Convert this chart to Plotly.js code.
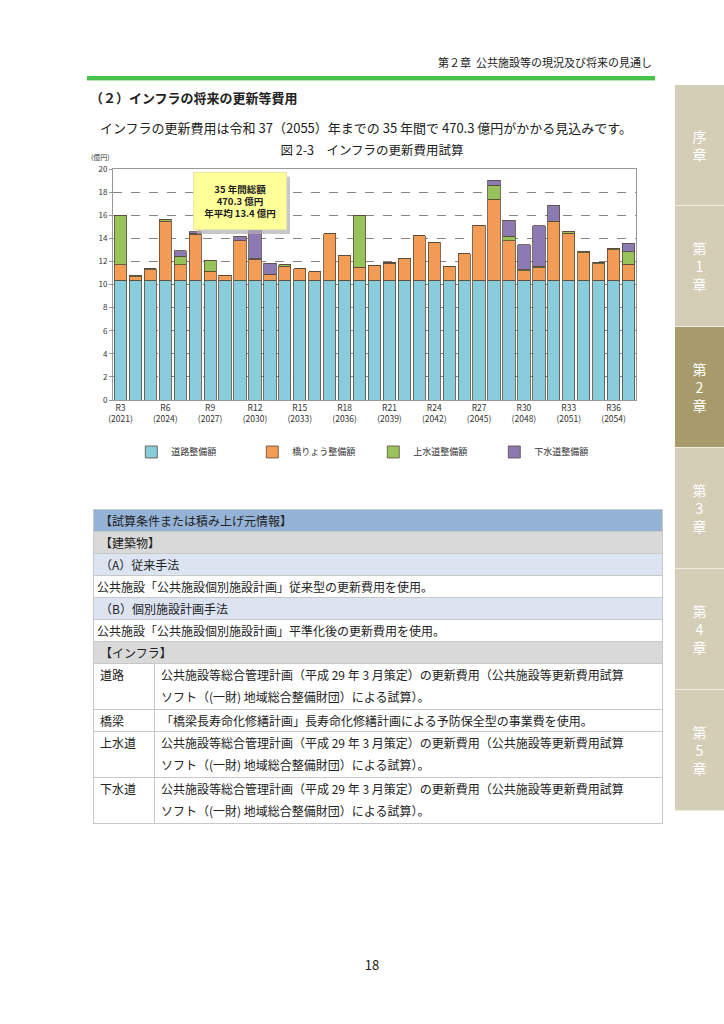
<!DOCTYPE html>
<html><head><meta charset="utf-8">
<script src="https://cdn.plot.ly/plotly-3.0.1.min.js"></script>
<style>
body{margin:0;width:724px;height:1024px;background:#fff;position:relative;font-family:"Noto Sans CJK JP","Noto Sans",sans-serif;color:#222;overflow:hidden}
.abs{position:absolute;white-space:nowrap}
#hdr{right:72px;top:54px;font-size:11px}
#gl{left:87px;top:76px;width:568px;height:4px;background:#49c24a;border-bottom:1px solid #b8e6b0}
#h2{left:90px;top:88px;font-size:13px;font-weight:bold}
#body{left:100px;top:118px;font-size:13px}
#cap{left:0;width:744px;text-align:center;top:140px;font-size:12.5px}
#chart{left:78px;top:145px;width:567px;height:330px}
table{position:absolute;left:93px;top:509px;width:570px;border-collapse:collapse;font-size:12px}
td{border:1px solid #c8c8c8;padding:0 6px;height:21px;line-height:21px}
.b{background:#95b3d7}.g{background:#d9d9d9}.l{background:#dce4f2}
td.two{line-height:22px;padding-top:0;padding-bottom:1px}
.tab{position:absolute;left:675px;width:49px;height:120px;background:#d5ceb7;color:#fff;font-size:14px;text-align:center;line-height:18px;border-bottom:1px solid #f0ece0;display:flex;align-items:center;justify-content:center}
.tab.on{background:#a89b6b}
#pg{left:0;width:744px;text-align:center;top:955px;font-size:13px}
</style></head><body>
<div class="abs" id="hdr">第２章&nbsp;&nbsp;公共施設等の現況及び将来の見通し</div>
<div class="abs" id="gl"></div>
<div class="abs" id="h2">（２）インフラの将来の更新等費用</div>
<div class="abs" id="body">インフラの更新費用は令和 37（2055）年までの 35 年間で 470.3 億円がかかる見込みです。</div>
<div class="abs" id="cap">図 2-3　インフラの更新費用試算</div>
<div class="abs" id="chart"></div>
<table>
<tr><td class="b" colspan="2">【試算条件または積み上げ元情報】</td></tr>
<tr><td class="g" colspan="2">【建築物】</td></tr>
<tr><td class="l" colspan="2">（A）従来手法</td></tr>
<tr><td colspan="2" style="padding-left:3px">公共施設「公共施設個別施設計画」従来型の更新費用を使用。</td></tr>
<tr><td class="l" colspan="2">（B）個別施設計画手法</td></tr>
<tr><td colspan="2" style="padding-left:3px">公共施設「公共施設個別施設計画」平準化後の更新費用を使用。</td></tr>
<tr><td class="g" colspan="2">【インフラ】</td></tr>
<tr><td style="width:48px;vertical-align:top">道路</td><td class="two">公共施設等総合管理計画（平成 29 年 3 月策定）の更新費用（公共施設等更新費用試算<br>ソフト（(一財) 地域総合整備財団）による試算）。</td></tr>
<tr><td>橋梁</td><td>「橋梁長寿命化修繕計画」長寿命化修繕計画による予防保全型の事業費を使用。</td></tr>
<tr><td style="vertical-align:top">上水道</td><td class="two">公共施設等総合管理計画（平成 29 年 3 月策定）の更新費用（公共施設等更新費用試算<br>ソフト（(一財) 地域総合整備財団）による試算）。</td></tr>
<tr><td style="vertical-align:top">下水道</td><td class="two">公共施設等総合管理計画（平成 29 年 3 月策定）の更新費用（公共施設等更新費用試算<br>ソフト（(一財) 地域総合整備財団）による試算）。</td></tr>
</table>
<div class="tab" style="top:85px">序<br>章</div>
<div class="tab" style="top:206px">第<br>1<br>章</div>
<div class="tab on" style="top:327px">第<br>2<br>章</div>
<div class="tab" style="top:448px">第<br>3<br>章</div>
<div class="tab" style="top:569px">第<br>4<br>章</div>
<div class="tab" style="top:690px">第<br>5<br>章</div>
<div class="abs" id="pg">18</div>
<script>
const categories = ['R3','R4','R5','R6','R7','R8','R9','R10','R11','R12','R13','R14','R15','R16','R17','R18','R19','R20','R21','R22','R23','R24','R25','R26','R27','R28','R29','R30','R31','R32','R33','R34','R35','R36','R37'];
const tickCats = ['R3','R6','R9','R12','R15','R18','R21','R24','R27','R30','R33','R36'];
const tickLabels = ['R3<br>(2021)','R6<br>(2024)','R9<br>(2027)','R12<br>(2030)','R15<br>(2033)','R18<br>(2036)','R21<br>(2039)','R24<br>(2042)','R27<br>(2045)','R30<br>(2048)','R33<br>(2051)','R36<br>(2054)'];
const road = [10.38,10.38,10.38,10.38,10.38,10.38,10.38,10.38,10.38,10.38,10.38,10.38,10.38,10.38,10.38,10.38,10.38,10.38,10.38,10.38,10.38,10.38,10.38,10.38,10.38,10.38,10.38,10.38,10.38,10.38,10.38,10.38,10.38,10.38,10.38];
const bridge = [1.31,0.29,0.88,5.11,1.34,3.95,0.77,0.43,3.41,1.82,0.49,1.22,1.00,0.71,4.00,2.13,1.11,1.28,1.48,1.90,3.83,3.29,1.19,2.30,4.74,6.98,3.41,0.83,1.05,5.05,4.06,2.39,1.42,2.64,1.36];
const water = [4.31,0.10,0.12,0.17,0.71,0.10,0.96,0,0,0.05,0,0.10,0,0,0,0,4.51,0,0.08,0,0,0,0,0,0,1.25,0.39,0.12,0.15,0.05,0.15,0.13,0.13,0.14,1.08];
const sewer = [0,0,0,0,0.51,0.15,0,0,0.39,2.50,0.99,0,0,0,0,0,0,0,0,0,0,0,0,0,0,0.43,1.37,2.10,3.50,1.37,0,0,0,0,0.74];
const seriesNames = ['道路整備額','橋りょう整備額','上水道整備額','下水道整備額'];
const colors = ['#89ccdc','#f39c55','#98c35a','#8c7ab3'];
const vals = [road,bridge,water,sewer];
const traces = vals.map((v,i)=>({type:'bar',x:categories,y:v,name:seriesNames[i],
  marker:{color:colors[i],line:{color:'#5a4a3a',width:0.8}},hoverinfo:'y'}));
const PL = 35, PW = 523, PH = 235;
const layout = {
  width:567,height:330,margin:{l:PL,r:9,t:24,b:71},barmode:'stack',bargap:0.18,
  paper_bgcolor:'rgba(0,0,0,0)',plot_bgcolor:'#fff',
  font:{family:'"Noto Sans CJK JP","Noto Sans",sans-serif',size:8,color:'#333'},
  xaxis:{type:'category',tickvals:tickCats,ticktext:tickLabels,tickangle:0,showline:true,mirror:true,linecolor:'#999',linewidth:1,showgrid:false,tickfont:{size:8.5}},
  yaxis:{range:[0,20],dtick:2,showline:true,mirror:true,linecolor:'#999',linewidth:1,gridcolor:'#666',griddash:'dash',gridwidth:0.8,ticks:'outside',ticklen:3,tickcolor:'#999',tickfont:{size:8},zeroline:false},
  legend:{orientation:'h',x:0.035,xanchor:'left',y:-0.225,yanchor:'middle',entrywidth:76,entrywidthmode:'pixels',font:{size:9},traceorder:'normal',itemwidth:30},
  shapes:[{type:'rect',xref:'paper',yref:'paper',x0:(197-113)/PW,x1:(290-113)/PW,y0:(404-235)/PH,y1:(404-177)/PH,fillcolor:'#b0b0b0',line:{width:0},layer:'above',opacity:0.7}],
  annotations:[
    {xref:'paper',yref:'paper',x:-0.045,y:(404-157)/PH,xanchor:'left',yanchor:'middle',text:'(億円)',showarrow:false,font:{size:7}},
    {xref:'paper',yref:'paper',x:(240-113)/PW,y:(404-202)/PH,xanchor:'center',yanchor:'middle',showarrow:false,
     text:'<b>35 年間総額</b><br><b>470.3 億円</b><br><b>年平均 13.4 億円</b>',font:{size:9.5,color:'#222'},
     bgcolor:'#ffff99',bordercolor:'#e8e8a0',borderwidth:1,width:88,height:52,borderpad:2}
  ]
};
Plotly.newPlot('chart',traces,layout,{displayModeBar:false,staticPlot:true});
</script>
</body></html>
